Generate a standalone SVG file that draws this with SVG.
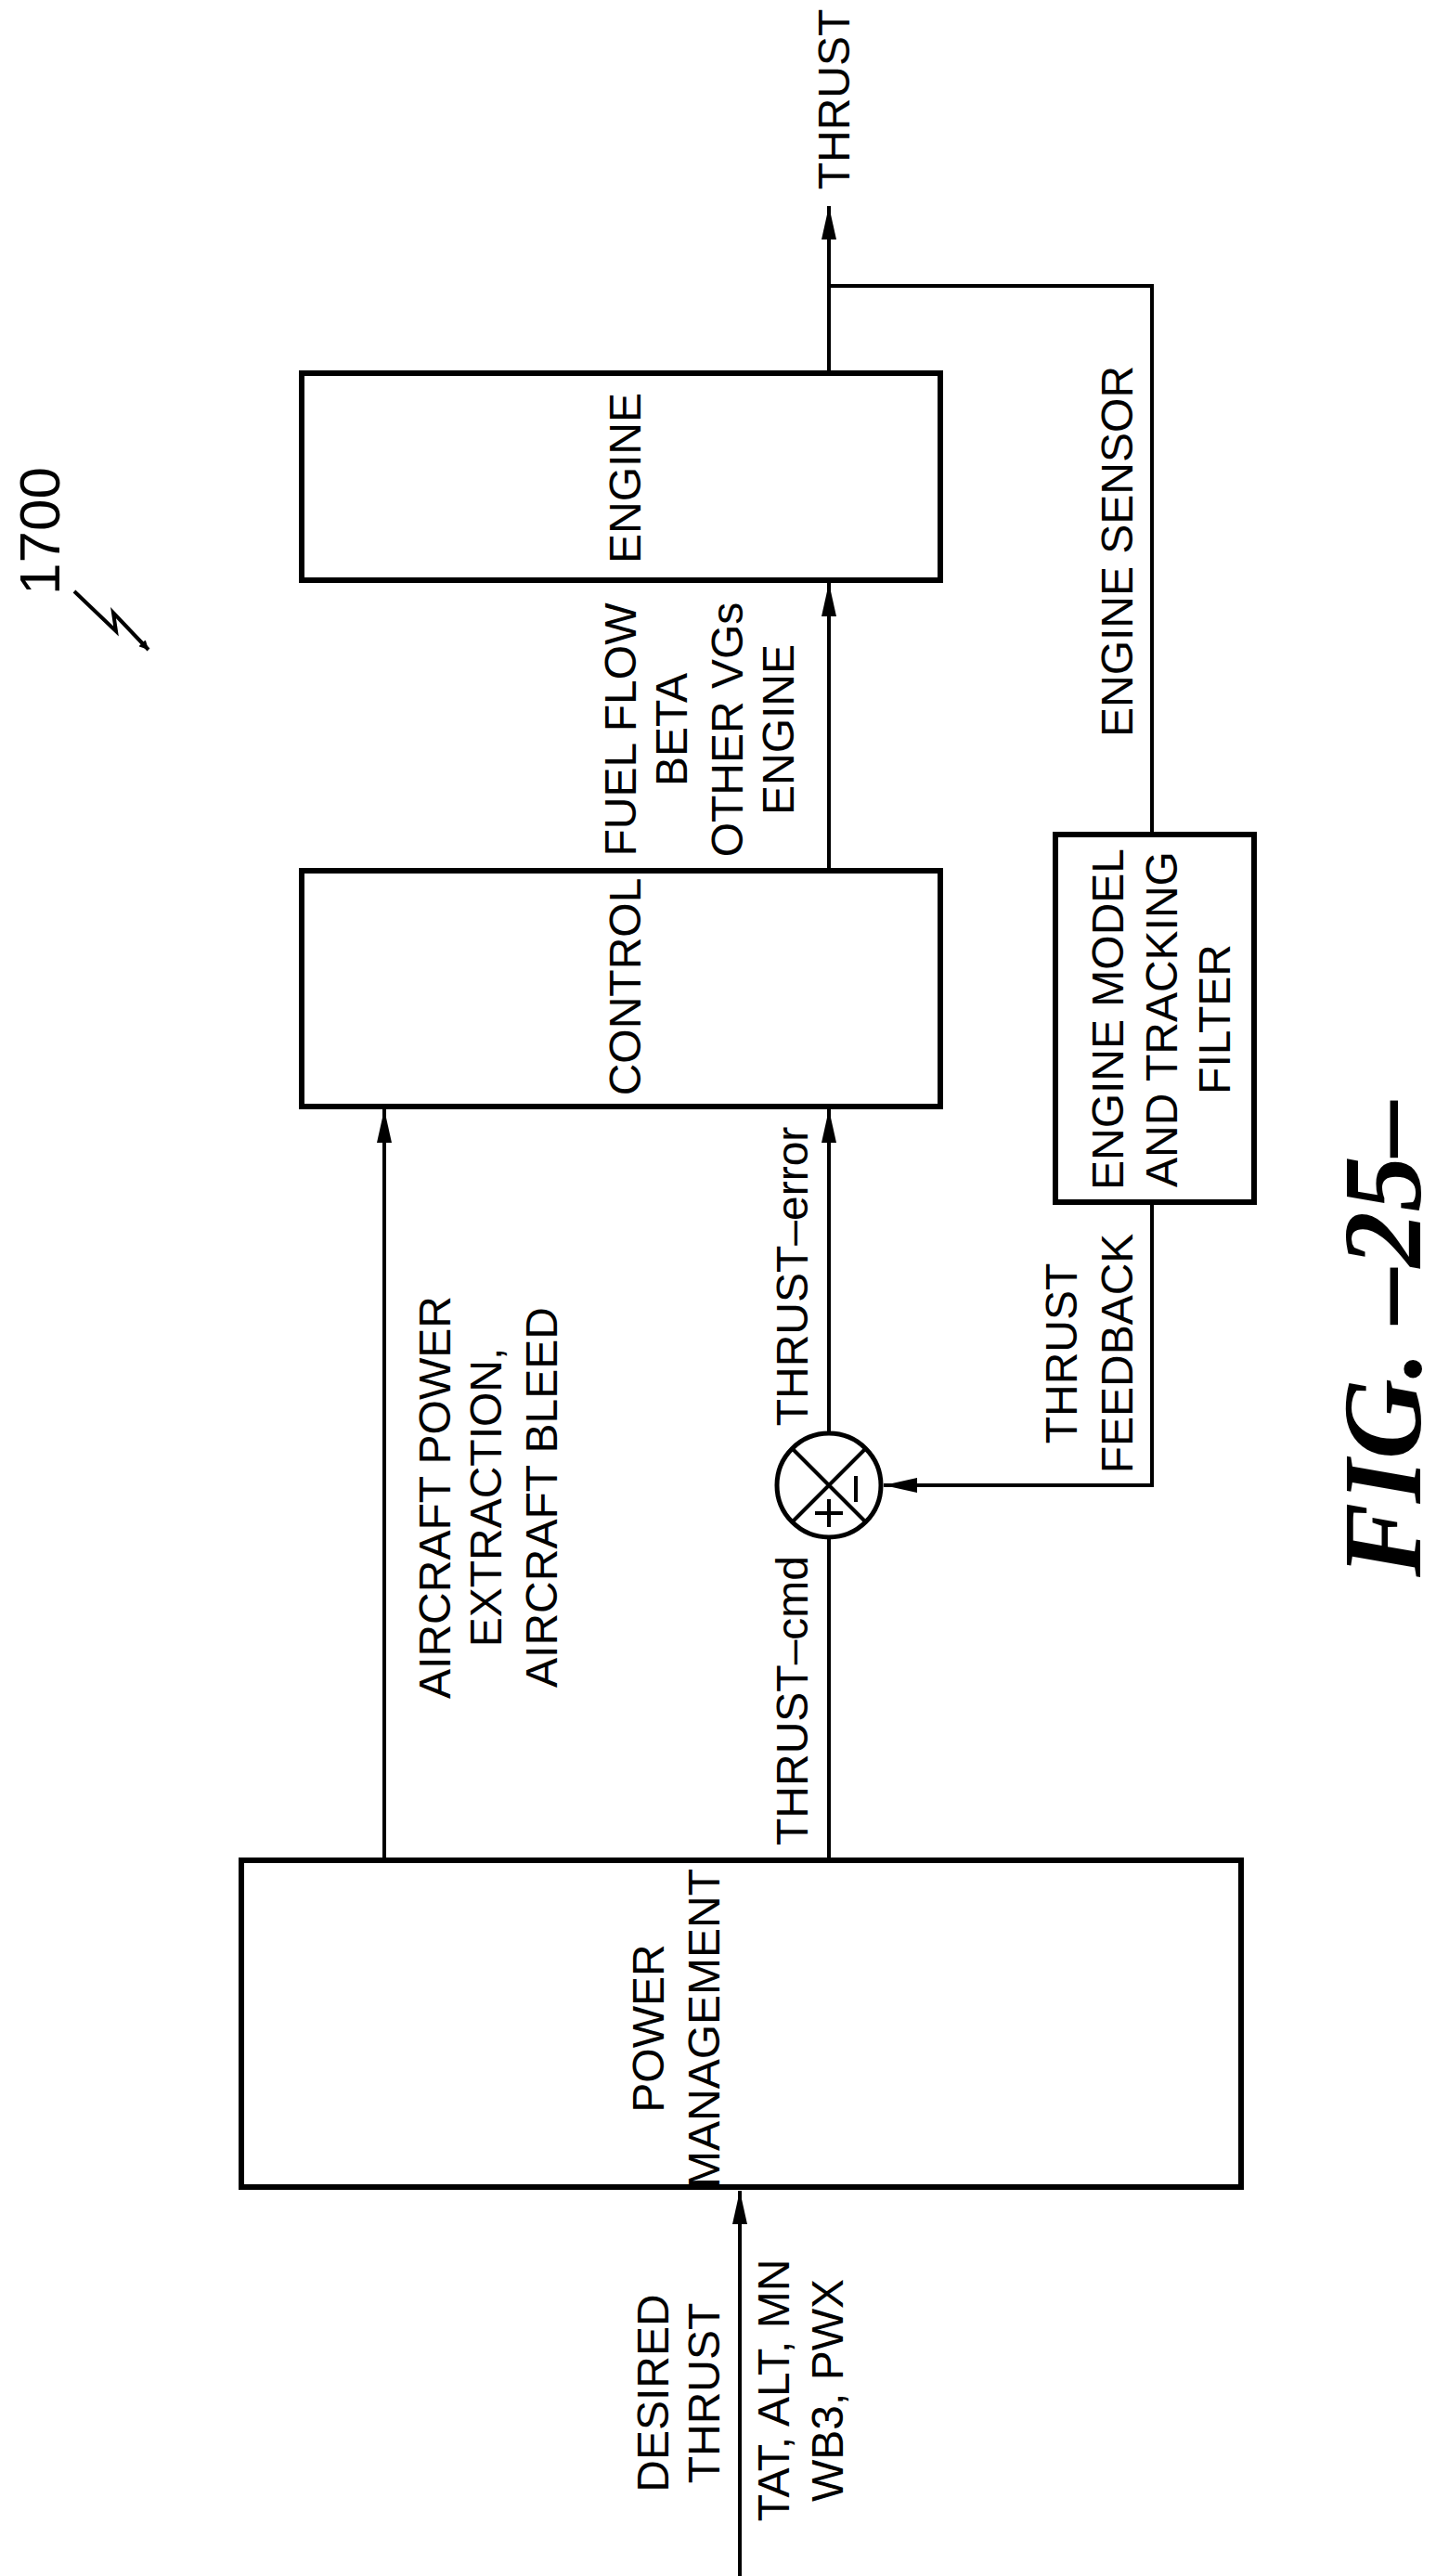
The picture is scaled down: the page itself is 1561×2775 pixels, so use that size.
<svg xmlns="http://www.w3.org/2000/svg" width="1561" height="2775" viewBox="0 0 1561 2775">
<defs>
<style>
text{font-family:"Liberation Sans",Arial,sans-serif;font-size:48px;fill:#000;text-anchor:middle}
.box{fill:#fff;stroke:#000;stroke-width:6}
.ln{fill:none;stroke:#000;stroke-width:4}
.fig{font-family:"Liberation Serif",serif;font-style:italic;font-size:120px}
</style>
<marker id="ah" viewBox="0 0 10 10" refX="10" refY="5" markerWidth="10" markerHeight="10" markerUnits="userSpaceOnUse" orient="auto">
<path d="M0,0 L10,5 L0,10 z" fill="#000"/>
</marker>
<marker id="a" viewBox="0 0 36 16" refX="36" refY="8" markerWidth="36" markerHeight="16" markerUnits="userSpaceOnUse" orient="auto">
<path d="M0,0 L36,8 L0,16 z" fill="#000"/>
</marker>
</defs>
<rect width="1561" height="2775" fill="#fff"/>
<g id="connectors">
<path class="ln" d="M797,2775 V2360" marker-end="url(#a)"/>
<path class="ln" d="M414,2004 V1195" marker-end="url(#a)"/>
<path class="ln" d="M893,2004 V1657"/>
<path class="ln" d="M893,1543 V1195" marker-end="url(#a)"/>
<path class="ln" d="M893,938 V628" marker-end="url(#a)"/>
<path class="ln" d="M893,402 V222" marker-end="url(#a)"/>
<path class="ln" d="M893,308 H1241 V899"/>
<path class="ln" d="M1241,1295 V1600 H952" marker-end="url(#a)"/>
</g>
<g id="engine"><rect class="box" x="325" y="402" width="688" height="223"/><text transform="translate(690,515) rotate(-90)">ENGINE</text></g>
<g id="control"><rect class="box" x="325" y="938" width="688" height="254"/><text transform="translate(690,1063) rotate(-90)">CONTROL</text></g>
<g id="power-management"><rect class="box" x="260" y="2004" width="1077" height="352"/>
<text transform="translate(715,2185) rotate(-90)">POWER</text><text transform="translate(775,2185) rotate(-90)">MANAGEMENT</text></g>
<g id="engine-model"><rect class="box" x="1137" y="899" width="214" height="396"/>
<text transform="translate(1210,1098) rotate(-90)">ENGINE MODEL</text><text transform="translate(1268,1098) rotate(-90)">AND TRACKING</text><text transform="translate(1325,1098) rotate(-90)">FILTER</text></g>
<g id="sum">
<circle cx="893" cy="1600" r="56" fill="#fff" stroke="#000" stroke-width="5"/>
<path class="ln" d="M853,1560 L933,1640 M933,1560 L853,1640"/>
<path class="ln" d="M922,1590 V1618 M893,1615 V1645 M878,1630 H908"/>
</g>
<g id="labels">
<text transform="translate(915,107) rotate(-90)">THRUST</text>
<text transform="translate(685,786) rotate(-90)">FUEL FLOW</text>
<text transform="translate(740,786) rotate(-90)">BETA</text>
<text transform="translate(800,786) rotate(-90)">OTHER VGs</text>
<text transform="translate(855,786) rotate(-90)">ENGINE</text>
<text transform="translate(1220,594) rotate(-90)">ENGINE SENSOR</text>
<text transform="translate(485,1613) rotate(-90)">AIRCRAFT POWER</text>
<text transform="translate(540,1613) rotate(-90)">EXTRACTION,</text>
<text transform="translate(600,1613) rotate(-90)">AIRCRAFT BLEED</text>
<text transform="translate(870,1375) rotate(-90)">THRUST–error</text>
<text transform="translate(870,1832) rotate(-90)">THRUST–cmd</text>
<text transform="translate(1160,1458) rotate(-90)">THRUST</text>
<text transform="translate(1220,1458) rotate(-90)">FEEDBACK</text>
<text transform="translate(720,2578) rotate(-90)">DESIRED</text>
<text transform="translate(775,2578) rotate(-90)">THRUST</text>
<text transform="translate(850,2575) rotate(-90)">TAT, ALT, MN</text>
<text transform="translate(908,2575) rotate(-90)">WB3, PWX</text>
</g>
<g id="ref">
<text transform="translate(64,572) rotate(-90)" style="font-size:62px">1700</text>
<path d="M80,637 L125,680 L122,660 L160,700" class="ln" stroke-width="5" marker-end="url(#ah)"/>
</g>
<text class="fig" transform="translate(1530,1442) rotate(-90)" font-weight="bold">FIG. –25–</text>
</svg>
